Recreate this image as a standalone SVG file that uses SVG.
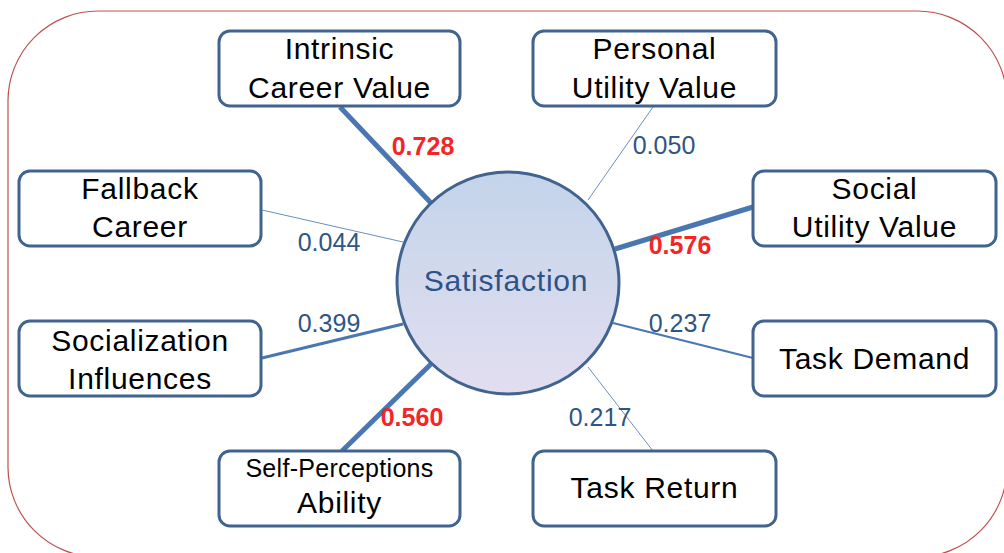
<svg xmlns="http://www.w3.org/2000/svg" width="1004" height="553" viewBox="0 0 1004 553">
  <defs>
    <linearGradient id="satFill" x1="0" y1="0" x2="0" y2="1">
      <stop offset="0" stop-color="#c3d4ea"/>
      <stop offset="1" stop-color="#e2def0"/>
    </linearGradient>
    <style>
      .frame { fill: #ffffff; stroke: #c0504d; stroke-width: 1.2; }
      .box { fill: #ffffff; stroke: #41638f; stroke-width: 3; }
      .lbl { font-family: "Liberation Sans", Arial, sans-serif; font-size: 30px; letter-spacing: 0.7px; fill: #000000; text-anchor: middle; }
      .small { font-size: 25px; letter-spacing: 0.3px; }
      .sat { font-family: "Liberation Sans", Arial, sans-serif; font-size: 30px; letter-spacing: 0.8px; fill: #2d5389; text-anchor: middle; }
      .w { font-family: "Liberation Sans", Arial, sans-serif; font-size: 25px; fill: #2f5585; text-anchor: middle; }
      .hi { font-weight: bold; fill: #f42525; }
      .edge { stroke: #4a77b2; fill: none; }
      .e1 { stroke-width: 1; stroke: #6b8fc0; }
      .e2 { stroke-width: 2; }
      .e3 { stroke-width: 3; }
      .e5 { stroke-width: 5; }
    </style>
  </defs>

  <!-- outer frame -->
  <rect class="frame" x="8" y="11" width="999" height="546" rx="90" ry="90"/>

  <!-- path coefficients -->
  <g id="connectors">
    <line class="edge e5" x1="340" y1="107" x2="431" y2="203"/>
    <line class="edge e1" x1="653" y1="107" x2="588" y2="200"/>
    <line class="edge e1" x1="262" y1="210" x2="403" y2="242"/>
    <line class="edge e5" x1="753" y1="207" x2="615" y2="249"/>
    <line class="edge e3" x1="262" y1="358" x2="403" y2="324"/>
    <line class="edge e5" x1="342" y1="451" x2="431" y2="364"/>
    <line class="edge e2" x1="613" y1="323" x2="753" y2="358"/>
    <line class="edge e1" x1="588" y1="367" x2="653" y2="451"/>
  </g>

  <g id="weights">
    <text class="w hi" x="423" y="155">0.728</text>
    <text class="w" x="664" y="154">0.050</text>
    <text class="w" x="329" y="251">0.044</text>
    <text class="w hi" x="680" y="254">0.576</text>
    <text class="w" x="329" y="332">0.399</text>
    <text class="w hi" x="412" y="426">0.560</text>
    <text class="w" x="680" y="332">0.237</text>
    <text class="w" x="600" y="426">0.217</text>
  </g>

  <g id="satisfaction">
    <circle cx="508" cy="283" r="111" fill="url(#satFill)" stroke="#41638f" stroke-width="3"/>
    <text class="sat" x="506" y="291">Satisfaction</text>
  </g>

  <g id="intrinsic-career-value">
    <rect class="box" x="219" y="31" width="241" height="75" rx="11"/>
    <text class="lbl" x="339.5" y="59">Intrinsic</text>
    <text class="lbl" x="339.5" y="98">Career Value</text>
  </g>

  <g id="personal-utility-value">
    <rect class="box" x="533" y="31" width="243" height="75" rx="11"/>
    <text class="lbl" x="654.5" y="59">Personal</text>
    <text class="lbl" x="654.5" y="98">Utility Value</text>
  </g>

  <g id="fallback-career">
    <rect class="box" x="19" y="171" width="242" height="75" rx="11"/>
    <text class="lbl" x="140" y="199">Fallback</text>
    <text class="lbl" x="140" y="237">Career</text>
  </g>

  <g id="social-utility-value">
    <rect class="box" x="753" y="171" width="243" height="75" rx="11"/>
    <text class="lbl" x="874.5" y="199">Social</text>
    <text class="lbl" x="874.5" y="237">Utility Value</text>
  </g>

  <g id="socialization-influences">
    <rect class="box" x="19" y="321" width="242" height="75" rx="11"/>
    <text class="lbl" x="140" y="351">Socialization</text>
    <text class="lbl" x="140" y="389">Influences</text>
  </g>

  <g id="task-demand">
    <rect class="box" x="753" y="321" width="243" height="75" rx="11"/>
    <text class="lbl" x="874.5" y="369">Task Demand</text>
  </g>

  <g id="self-perceptions-ability">
    <rect class="box" x="219" y="451" width="241" height="75" rx="11"/>
    <text class="lbl small" x="339.5" y="477">Self-Perceptions</text>
    <text class="lbl" x="339.5" y="513">Ability</text>
  </g>

  <g id="task-return">
    <rect class="box" x="533" y="451" width="243" height="75" rx="11"/>
    <text class="lbl" x="654.5" y="498">Task Return</text>
  </g>
</svg>
